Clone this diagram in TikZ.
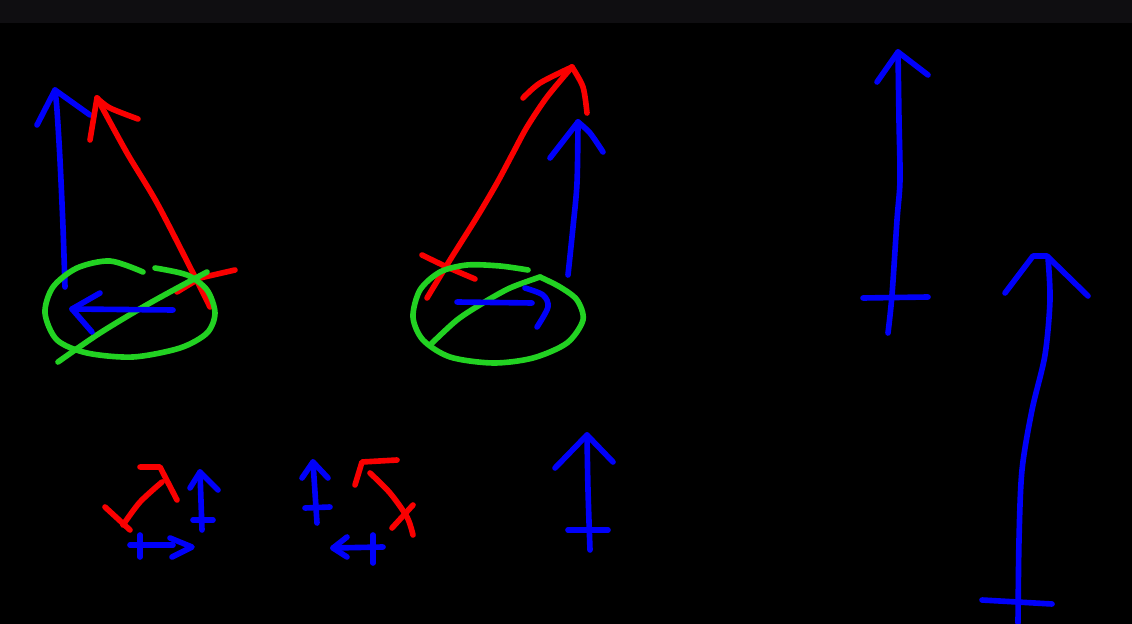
\documentclass[tikz,border=0pt]{standalone}
\usepackage{tikz}
\usetikzlibrary{calc}
\definecolor{penblue}{RGB}{0,0,250}
\definecolor{penred}{RGB}{250,0,0}
\definecolor{pengreen}{RGB}{34,210,34}
\definecolor{topbar}{RGB}{15,14,17}
\tikzset{
    bluepen/.style={
        line width=3.2pt,
        penblue,
        line cap=round,
        line join=round
    },
    redpen/.style={
        line width=3.2pt,
        penred,
        line cap=round,
        line join=round
    },
    % green rings and slashes
    greenpen/.style={
        line width=3.2pt,
        pengreen,
        line cap=round,
        line join=round
    }
}
\begin{document}
\begin{tikzpicture}[x=0.02cm,y=-0.02cm]
    \useasboundingbox (0,0) rectangle (1132,624);
    \fill[black] (0,0) rectangle (1132,624);
    \fill[topbar] (0,0) rectangle (1132,23);

    % left sketch
    \draw[bluepen] plot[smooth] coordinates {(65,287) (63,227) (60,160) (57,110) (55,90)};
    \draw[bluepen] (37,125) -- (55,90) -- (90,115);
    \draw[redpen] plot[smooth] coordinates {(210,307) (193,273) (157,203) (127,153) (97,98)};
    \draw[redpen] (90,140) -- (97,98);
    \draw[redpen] plot[smooth] coordinates {(97,98) (110,108) (138,119)};
    \draw[redpen] (177,292) -- (200,278) -- (235,270);
    \draw[greenpen] plot[smooth] coordinates {(155,268) (187,275) (207,290) (215,313) (207,333) (180,348) (133,357) (87,353) (57,340) (45,313) (53,287) (77,268) (110,261) (143,272)};
    \draw[greenpen] plot[smooth] coordinates {(58,362) (100,333) (150,303) (207,272)};
    \draw[bluepen] (173,310) -- (72,309);
    \draw[bluepen] (100,293) -- (72,309) -- (92,332);

    % middle sketch
    \draw[redpen] plot[smooth] coordinates {(427,298) (450,260) (477,217) (497,183) (513,153) (527,127) (547,97) (572,67)};
    \draw[redpen] plot[smooth] coordinates {(523,98) (540,83) (572,67)};
    \draw[redpen] plot[smooth] coordinates {(572,67) (583,87) (587,113)};
    \draw[redpen] plot[smooth] coordinates {(422,255) (447,267) (475,279)};
    \draw[bluepen] plot[smooth] coordinates {(568,275) (573,227) (577,183) (578,122)};
    \draw[bluepen] (550,158) -- (578,122);
    \draw[bluepen] plot[smooth] coordinates {(578,122) (590,133) (603,152)};
    \draw[greenpen] plot[smooth] coordinates {(528,270) (500,266) (467,265) (440,272) (420,290) (413,317) (423,340) (450,357) (493,363) (533,358) (567,343) (583,320) (577,300) (560,287) (540,277)};
    \draw[greenpen] plot[smooth] coordinates {(540,277) (510,288) (483,303) (457,320) (430,345)};
    \draw[bluepen] (457,302) -- (532,303);
    \draw[bluepen] plot[smooth] coordinates {(525,288) (543,295) (548,307) (537,327)};

    % small sketches
    \draw[redpen] plot[smooth] coordinates {(123,525) (140,502) (162,482)};
    \draw[redpen] (140,467) -- (160,467) -- (177,500);
    \draw[redpen] (105,507) -- (130,530);
    \draw[bluepen] (202,530) -- (200,472);
    \draw[bluepen] (190,488) -- (200,472) -- (218,490);
    \draw[bluepen] (193,520) -- (213,520);
    \draw[bluepen] (130,545) -- (173,545);
    \draw[bluepen] (140,535) -- (140,557);
    \draw[bluepen] (170,538) -- (192,547) -- (172,557);

    \draw[bluepen] (317,523) -- (313,462);
    \draw[bluepen] (302,478) -- (313,462) -- (328,478);
    \draw[bluepen] (305,508) -- (330,507);
    \draw[redpen] plot[smooth] coordinates {(370,473) (390,493) (407,517) (413,535)};
    \draw[redpen] (397,460) -- (362,462) -- (355,485);
    \draw[redpen] (392,528) -- (413,505);
    \draw[bluepen] (383,547) -- (333,548);
    \draw[bluepen] (347,537) -- (333,548) -- (347,557);
    \draw[bluepen] (373,535) -- (373,563);

    \draw[bluepen] plot[smooth] coordinates {(590,550) (588,490) (587,435)};
    \draw[bluepen] (555,468) -- (587,435) -- (613,462);
    \draw[bluepen] (568,530) -- (608,530);

    % right sketches
    \draw[bluepen] plot[smooth] coordinates {(888,333) (892,295) (897,220) (900,180) (899,120) (898,52)};
    \draw[bluepen] (877,82) -- (898,52) -- (928,75);
    \draw[bluepen] (863,298) -- (928,297);
    \draw[bluepen] plot[smooth] coordinates {(1018,623) (1019,540) (1022,470) (1032,410) (1045,355) (1050,300) (1048,258)};
    \draw[bluepen] (1005,293) -- (1033,256) -- (1047,256) -- (1088,296);
    \draw[bluepen] (982,600) -- (1052,604);
\end{tikzpicture}
\end{document}
